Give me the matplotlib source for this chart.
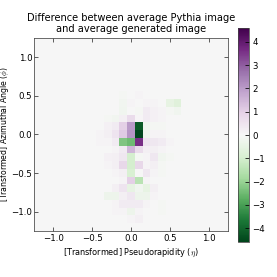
import matplotlib
matplotlib.use('Agg')
import matplotlib.pyplot as plt
import numpy as np

plt.rcParams['mathtext.fontset'] = 'cm'

# 25x25 binning over [-1.25, 1.25] in both eta and phi
n_bins = 25
edges = np.linspace(-1.25, 1.25, n_bins + 1)

# non-zero part of the difference image: rows phi = 0.5 .. -1.1 (top to bottom),
# columns eta = -0.4 .. 0.6
core_row0 = 7
core_col0 = 8
diff_core = [
    [0.0, 0.0, 0.0, -0.1, 0.0, 0.1, 0.0, 0.0, 0.0, 0.0, 0.0],
    [0.0, 0.0, 0.0, -0.15, 0.1, 0.0, 0.1, 0.1, 0.0, -0.5, -0.7],
    [0.0, 0.0, 0.0, -0.2, 0.0, -0.1, 0.3, 0.15, 0.1, -0.1, -0.2],
    [0.0, -0.1, -0.15, 0.2, 0.7, 0.05, 0.3, 0.15, 0.1, 0.0, 0.0],
    [0.0, 0.15, 0.3, 1.0, 2.0, -4.2, -0.2, -0.1, -0.1, 0.0, 0.0],
    [0.1, 0.2, 0.5, 1.1, 2.1, -4.6, -0.3, 0.1, 0.1, 0.0, 0.0],
    [0.1, 0.1, 0.3, -2.3, -2.5, 3.6, 0.5, 0.4, 0.3, 0.1, 0.0],
    [0.0, 0.0, 0.1, 0.3, 1.5, 0.7, 0.2, 0.2, 0.1, 0.0, 0.0],
    [0.0, 0.15, 0.2, 0.4, -1.0, -0.1, 0.1, 0.4, -0.2, -0.1, 0.0],
    [0.0, 0.1, 0.2, 0.8, -1.0, 0.8, 0.1, 0.2, -0.1, 0.0, 0.0],
    [0.0, 0.0, 0.1, 0.2, -0.9, 0.0, 0.4, 0.1, -0.1, 0.0, 0.0],
    [0.0, 0.0, 0.0, 0.1, 1.0, -1.5, 0.1, 0.0, 0.0, 0.0, 0.0],
    [0.0, 0.0, 0.2, 0.5, -0.5, -0.2, -0.5, 0.2, 0.0, 0.0, 0.0],
    [0.0, -0.3, -0.3, 0.2, 0.4, -0.3, -0.3, 0.1, 0.0, 0.0, 0.0],
    [0.0, 0.0, 0.1, 0.3, 0.3, 0.3, 0.1, 0.0, -0.1, 0.0, 0.0],
    [0.0, 0.0, 0.1, 0.1, -0.3, 0.1, 0.0, 0.0, -0.1, 0.0, 0.0],
    [0.0, 0.0, 0.0, 0.0, 0.1, 0.2, 0.0, 0.0, 0.0, 0.0, 0.0],
]
cbar_ticks = [-4, -3, -2, -1, 0, 1, 2, 3, 4]
axis_ticks = [-1.0, -0.5, 0.0, 0.5, 1.0]

core = np.array(diff_core)
diff = np.zeros((n_bins, n_bins))
diff[core_row0:core_row0 + core.shape[0], core_col0:core_col0 + core.shape[1]] = core
vmax = 4.6

fig = plt.figure(figsize=(4, 4), dpi=69.25)
ax = fig.add_axes([0.123, 0.166, 0.700, 0.697])
im = ax.imshow(diff, cmap='PRGn_r', vmin=-vmax, vmax=vmax, interpolation='nearest',
               extent=[edges[0], edges[-1], edges[0], edges[-1]], origin='upper', aspect='auto')
ax.set_xticks(axis_ticks)
ax.set_yticks(axis_ticks)
ax.tick_params(direction='in', top=True, right=True, labelsize=9, length=4, pad=3,
               colors='#333333')
ax.tick_params(axis='y', pad=2)
for lbl in ax.get_xticklabels() + ax.get_yticklabels():
    lbl.set_color('black')
for sp in ax.spines.values():
    sp.set_color('#444444')
ax.set_xlabel(r'[Transformed] Pseudorapidity ($\eta$)', fontsize=8.5)
ax.set_ylabel(r'[Transformed] Azimuthal Angle ($\phi$)', fontsize=8, va='center')
ax.yaxis.set_label_coords(-0.15, 0.5)
ax.set_title('Difference between average Pythia image\nand average generated image',
             fontsize=10.3)

cax = fig.add_axes([0.859, 0.126, 0.040, 0.773])
cb = fig.colorbar(im, cax=cax, ticks=cbar_ticks)
cb.ax.tick_params(labelsize=9, direction='in', length=4)
cb.outline.set_edgecolor('#444444')

fig.savefig('out.png', dpi=69.25)
